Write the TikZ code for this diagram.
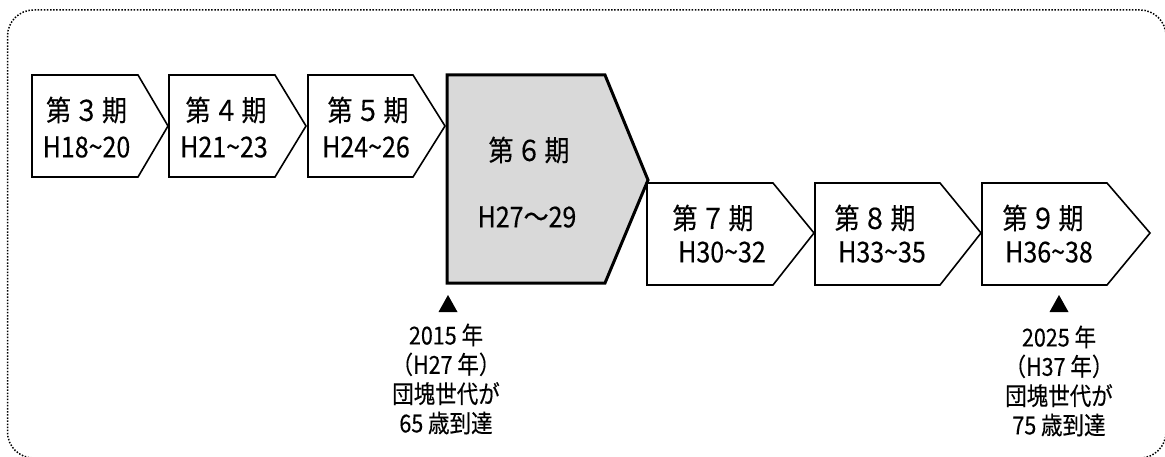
\documentclass[tikz,border=0pt]{standalone}
\usepackage{graphicx}
\usepackage{fontspec}
\setmainfont{Noto Sans CJK JP}[FakeBold=0.3]
\definecolor{fillgray}{HTML}{D9D9D9}
\newcommand{\tall}[1]{\scalebox{1}[1.15]{#1}}
\begin{document}
\begin{tikzpicture}[x=1pt,y=-1pt,
  chev/.style={draw=black,line width=1.6pt,fill=white,line join=miter},
  bigchev/.style={draw=black,line width=3pt,fill=fillgray,line join=miter},
  ttl/.style={font=\fontsize{25}{28}\selectfont,inner sep=0pt},
  sub/.style={font=\fontsize{25}{28}\selectfont,inner sep=0pt},
  note/.style={font=\fontsize{21.5}{29.3}\selectfont,align=center,inner sep=0pt},
  frame/.style={line width=1.5pt,dash pattern=on 1.5pt off 1.6pt,rounded corners=26pt}]
\useasboundingbox (0,0) rectangle (1165,457);
\draw[frame] (7.5,10) rectangle (1166,458);
% small chevrons
\draw[chev] (32,75) -- (138,75) -- (168,126) -- (138,177) -- (32,177) -- cycle;
\draw[chev] (169,75) -- (275,75) -- (306,126) -- (275,177) -- (169,177) -- cycle;
\draw[chev] (308,75) -- (413,75) -- (445,126) -- (413,177) -- (308,177) -- cycle;
\draw[chev] (647,183) -- (773,183) -- (814,233) -- (773,285) -- (647,285) -- cycle;
\draw[chev] (815,183) -- (940,183) -- (981,233) -- (940,285) -- (815,285) -- cycle;
\draw[chev] (982,183) -- (1107,183) -- (1150,233) -- (1107,285) -- (982,285) -- cycle;
% big chevron
\draw[bigchev] (447,75) -- (605,75) -- (648,180) -- (605,283) -- (447,283) -- cycle;
% texts
\node[ttl] (t3) at (86.5,110) {\tall{第\hspace{3pt}３\hspace{3pt}期}};
\node[sub] (s3) at (86.5,147) {\tall{H18\char"007E 20}};
\node[ttl] (t4) at (226,110) {\tall{第\hspace{3pt}４\hspace{3pt}期}};
\node[sub] (s4) at (224,147) {\tall{H21\char"007E 23}};
\node[ttl] (t5) at (368,110) {\tall{第\hspace{3pt}５\hspace{3pt}期}};
\node[sub] (s5) at (366,147) {\tall{H24\char"007E 26}};
\node[ttl] (t6) at (529,150) {\tall{第\hspace{3pt}６\hspace{3pt}期}};
\node[sub] (s6) at (527,217) {\tall{H27～29}};
\node[ttl] (t7) at (713,218) {\tall{第\hspace{3pt}７\hspace{3pt}期}};
\node[sub] (s7) at (722,252) {\tall{H30\char"007E 32}};
\node[ttl] (t8) at (875,218) {\tall{第\hspace{3pt}８\hspace{3pt}期}};
\node[sub] (s8) at (882,252) {\tall{H33\char"007E 35}};
\node[ttl] (t9) at (1043,218) {\tall{第\hspace{3pt}９\hspace{3pt}期}};
\node[sub] (s9) at (1049,252) {\tall{H36\char"007E 38}};
% markers
\fill (448,295) -- (457.5,312) -- (438.5,312) -- cycle;
\fill (1059,295) -- (1068.5,312) -- (1049.5,312) -- cycle;
\node[note] (n1) at (446,379) {\tall{2015 年}\\\tall{（H27 年）}\\\tall{団塊世代が}\\\tall{65 歳到達}};
\node[note] (n2) at (1059,381) {\tall{2025 年}\\\tall{（H37 年）}\\\tall{団塊世代が}\\\tall{75 歳到達}};
\end{tikzpicture}
\end{document}
